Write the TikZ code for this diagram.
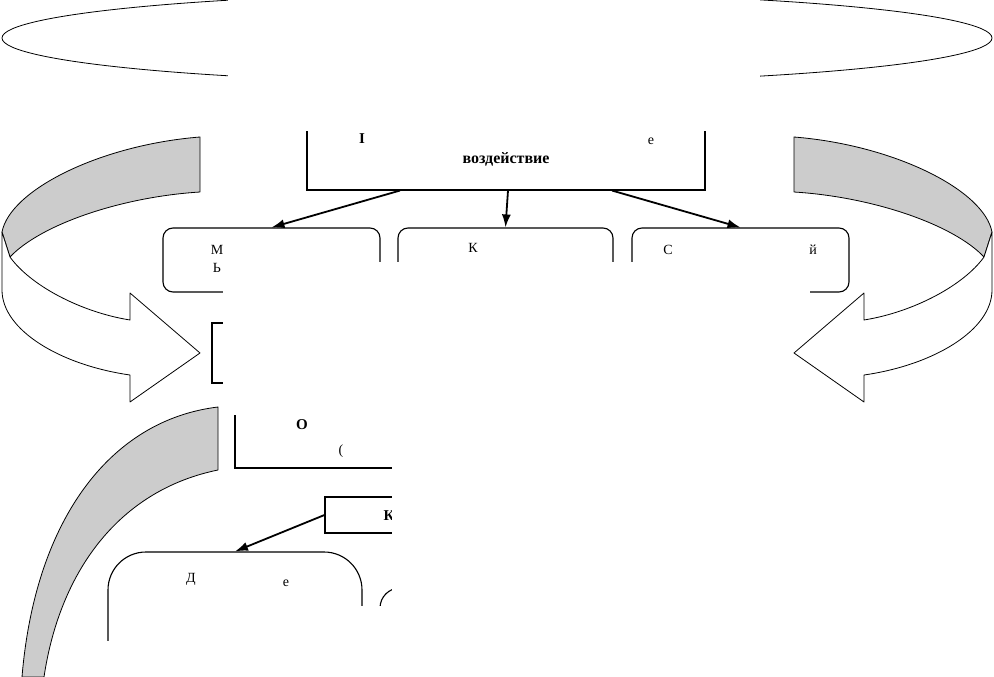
\documentclass[tikz,border=0pt]{standalone}
\usepackage{fontspec}
\setmainfont{Liberation Serif}
\usetikzlibrary{arrows.meta}
\definecolor{bandgray}{RGB}{204,204,204}
\begin{document}
\begin{tikzpicture}[x=1pt,y=-1pt,
  box/.style={draw,line width=1.1pt,inner sep=0pt},
  rbox/.style={box,rounded corners=10pt},
  frag/.style={font=\fontsize{14}{16}\selectfont,inner sep=0pt},
  mask/.style={fill=white},
  band/.style={draw,line width=0.8pt,line join=round},
  link/.style={-{Latex[length=13pt,width=9pt]},line width=1.8pt}]
\clip (0,0) rectangle (994,677);

\draw[line width=0.8pt] (497,38) ellipse [x radius=495pt, y radius=45pt];

% top box and first row
\node[box,minimum width=398pt,minimum height=80pt] (impact) at (506,150) {};
\node[frag,font=\fontsize{15}{17}\selectfont\bfseries] (impI) at (362,139) {I};
\node[frag] (impE) at (651,141) {е};
\node[frag,font=\fontsize{16}{18}\selectfont\bfseries] (impW) at (506,159) {воздействие};

\node[rbox,minimum width=217pt,minimum height=64pt] (form1) at (271.5,260) {};
\node[rbox,minimum width=215pt,minimum height=64pt] (form2) at (505.5,260) {};
\node[rbox,minimum width=217pt,minimum height=64pt] (form3) at (740.5,260) {};
\node[frag] (f1a) at (217,250) {М};
\node[frag] (f1b) at (217,268) {Ь};
\node[frag] (f2a) at (473,248) {К};
\node[frag] (f3a) at (668,250) {С};
\node[frag] (f3b) at (813,250) {й};

\draw[link] ([xshift=-106pt]impact.south) -- (form1.north);
\draw[link] ([xshift=2pt]impact.south) -- (form2.north);
\draw[link] ([xshift=106pt]impact.south) -- (form3.north);

% lower boxes
\node[box,minimum width=208pt,minimum height=60pt] (level) at (316,353) {};
\node[box,minimum width=285pt,minimum height=73pt] (org) at (377.5,431.5) {};
\node[frag,font=\fontsize{15}{17}\selectfont\bfseries] (orgO) at (302,425) {О};
\node[frag] (orgP) at (341,451) {(};
\node[box,minimum width=145pt,minimum height=36pt] (kbox) at (397.5,515) {};
\node[frag,font=\fontsize{15}{17}\selectfont\bfseries] (kK) at (389,516) {К};
\node[box,rounded corners=38pt,minimum width=254pt,minimum height=148pt] (dyn) at (235,626) {};
\node[frag] (dynD) at (191,579) {Д};
\node[frag] (dynE) at (286,583) {е};
\node[box,rounded corners=20pt,minimum width=140pt,minimum height=112pt] (side) at (450,644) {};

\draw[link] (kbox.west) -- (dyn.north);

% white patches
\fill[mask] (228,-10) rectangle (760,131);
\fill[mask] (223,262) rectangle (810,415);
\fill[mask] (392,415) rectangle (994,677);
\fill[mask] (114,606) rectangle (392,677);
\fill[mask] (100,641) rectangle (392,677);

% left turning arrow
\filldraw[band,fill=bandgray] (200,137) .. controls (100,145) and (10,190) .. (2,232)
  -- (10,257) .. controls (40,225) and (120,197) .. (200,192) -- cycle;
\filldraw[band,fill=white] (10,257) .. controls (30,285) and (80,312) .. (130,320)
  -- (130,293) -- (200,353) -- (130,402) -- (130,375)
  .. controls (60,365) and (2,330) .. (2,290) -- (2,232) -- cycle;

% right turning arrow
\filldraw[band,fill=bandgray] (794,137) .. controls (894,145) and (984,190) .. (992,232)
  -- (984,257) .. controls (954,225) and (874,197) .. (794,192) -- cycle;
\filldraw[band,fill=white] (984,257) .. controls (964,285) and (914,312) .. (864,320)
  -- (864,293) -- (794,353) -- (864,402) -- (864,375)
  .. controls (934,365) and (992,330) .. (992,290) -- (992,232) -- cycle;

% lower band
\filldraw[band,fill=bandgray] (218,407) .. controls (110,420) and (35,520) .. (22,677)
  -- (44,677) .. controls (60,570) and (120,490) .. (218,470) -- cycle;
\end{tikzpicture}
\end{document}
